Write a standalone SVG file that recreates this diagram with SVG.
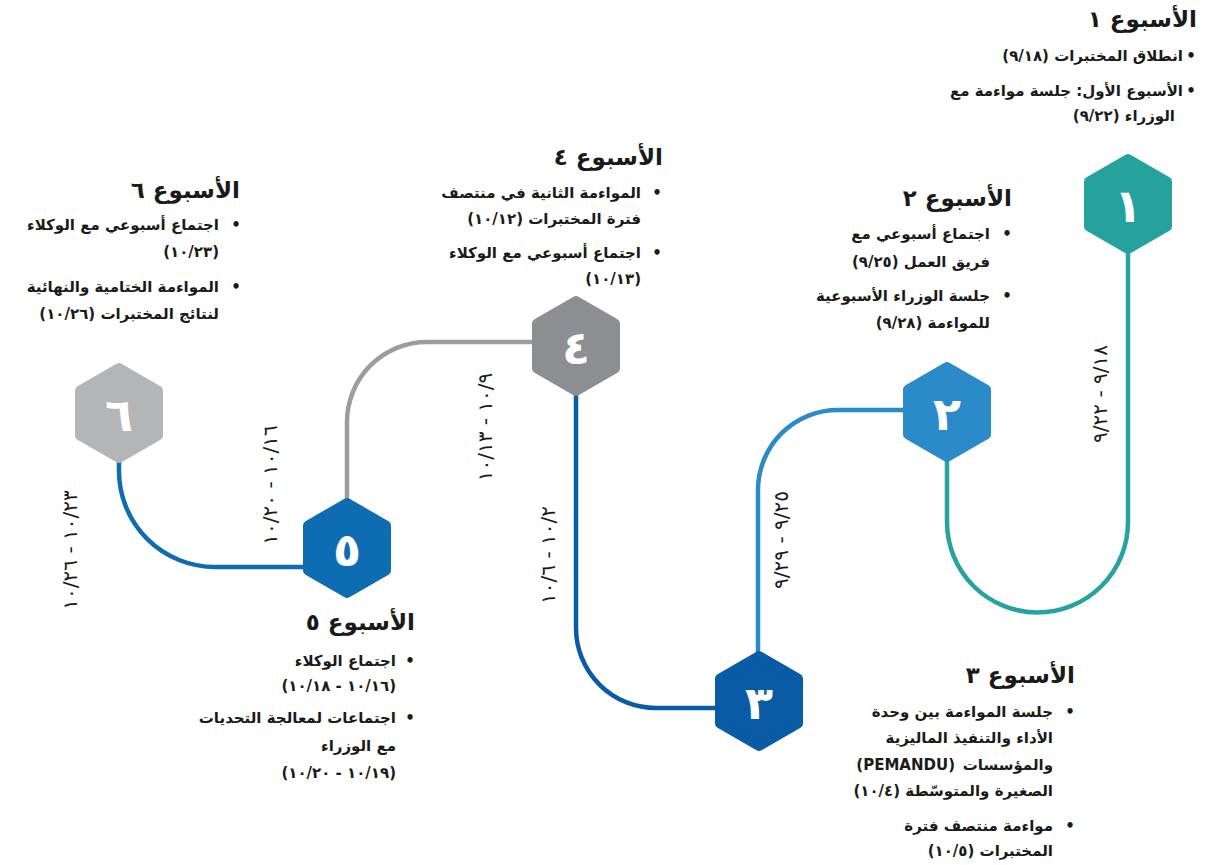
<svg xmlns="http://www.w3.org/2000/svg" width="1225" height="865" viewBox="0 0 1225 865">
  <defs>
    <style>
      .t { font-family: "DejaVu Sans", "Noto Sans", sans-serif; font-weight: bold; fill: #1a1a1a; }
      .rtl { direction: rtl; unicode-bidi: embed; }
      .h { font-size: 23px; }
      .b { font-size: 15px; }
      .dot { font-size: 15px; text-anchor: middle; }
      .date { font-family: "DejaVu Sans", sans-serif; font-size: 20px; letter-spacing: 0.7px; fill: #1a1a1a; text-anchor: middle; dominant-baseline: central; }
      .num { font-family: "DejaVu Sans", sans-serif; font-weight: bold; font-size: 46px; fill: #ffffff; text-anchor: middle; }
      .hex { stroke-width: 10; stroke-linejoin: round; }
      .link { fill: none; stroke-width: 4.5; }
    </style>
    <!-- pointy-top hexagon; the round-joined stroke gives the soft corners -->
    <polygon id="hexShape" points="0,-45 39,-22.5 39,22.5 0,45 -39,22.5 -39,-22.5"/>
  </defs>

  <rect width="1225" height="865" fill="#ffffff"/>

  <!-- connectors between the weekly milestones -->
  <g id="connectors">
    <path class="link" stroke="#27A39F" d="M1128 250 V522 A90.5 90.5 0 0 1 947 522 V458"/>
    <path class="link" stroke="#2B8BC9" d="M905 410 H838 A80 80 0 0 0 758 490 V655"/>
    <path class="link" stroke="#0A5BA6" d="M576 392 V628 A80 80 0 0 0 656 708 H716"/>
    <path class="link" stroke="#9B9C9F" d="M535 342 H427 A80 80 0 0 0 347 422 V502"/>
    <path class="link" stroke="#0E6DB2" d="M305 567 H215 A96 96 0 0 1 119 471 V458"/>
  </g>

  <g id="week1">
    <use href="#hexShape" class="hex" fill="#25A29D" stroke="#25A29D" x="1128" y="204"/>
    <text class="num" x="1128" y="222">١</text>
    <text class="t h rtl" x="1197" y="27">الأسبوع ١</text>
    <text class="t dot" x="1191" y="61">•</text>
    <text class="t b rtl" x="1183" y="61">انطلاق المختبرات (٩/١٨)</text>
    <text class="t dot" x="1191" y="96">•</text>
    <text class="t b rtl" x="1183" y="96">الأسبوع الأول: جلسة مواءمة مع</text>
    <text class="t b rtl" x="1175" y="121">الوزراء (٩/٢٢)</text>
    <text class="date rtl" x="1100" y="394" transform="rotate(-90 1100 394)">٩/١٨ - ٩/٢٢</text>
  </g>

  <g id="week2">
    <use href="#hexShape" class="hex" fill="#2B8BC9" stroke="#2B8BC9" x="947" y="412"/>
    <text class="num" x="947" y="430">٢</text>
    <text class="t h rtl" x="1012" y="206">الأسبوع ٢</text>
    <text class="t dot" x="1007" y="239">•</text>
    <text class="t b rtl" x="990" y="239">اجتماع أسبوعي مع</text>
    <text class="t b rtl" x="990" y="267">فريق العمل (٩/٢٥)</text>
    <text class="t dot" x="1007" y="301">•</text>
    <text class="t b rtl" x="990" y="301">جلسة الوزراء الأسبوعية</text>
    <text class="t b rtl" x="990" y="328">للمواءمة (٩/٢٨)</text>
    <text class="date rtl" x="781" y="540" transform="rotate(-90 781 540)">٩/٢٥ - ٩/٢٩</text>
  </g>

  <g id="week3">
    <use href="#hexShape" class="hex" fill="#0A5BA6" stroke="#0A5BA6" x="759" y="701"/>
    <text class="num" x="759" y="719">٣</text>
    <text class="t h rtl" x="1075" y="683">الأسبوع ٣</text>
    <text class="t dot" x="1070" y="717">•</text>
    <text class="t b rtl" x="1053" y="717">جلسة المواءمة بين وحدة</text>
    <text class="t b rtl" x="1053" y="743">الأداء والتنفيذ الماليزية</text>
    <text class="t b rtl" x="1053" y="770">والمؤسسات</text>
    <text class="t b" x="955" y="770" text-anchor="end">(PEMANDU)</text>
    <text class="t b rtl" x="1053" y="796">الصغيرة والمتوسّطة (١٠/٤)</text>
    <text class="t dot" x="1070" y="831">•</text>
    <text class="t b rtl" x="1053" y="831">مواءمة منتصف فترة</text>
    <text class="t b rtl" x="1053" y="856">المختبرات (١٠/٥)</text>
    <text class="date rtl" x="548" y="555" transform="rotate(-90 548 555)">١٠/٢ - ١٠/٦</text>
  </g>

  <g id="week4">
    <use href="#hexShape" class="hex" fill="#8D8E91" stroke="#8D8E91" x="576" y="346"/>
    <text class="num" x="576" y="364">٤</text>
    <text class="t h rtl" x="663" y="165">الأسبوع ٤</text>
    <text class="t dot" x="657" y="198">•</text>
    <text class="t b rtl" x="641" y="198">المواءمة الثانية في منتصف</text>
    <text class="t b rtl" x="641" y="224">فترة المختبرات (١٠/١٢)</text>
    <text class="t dot" x="657" y="258">•</text>
    <text class="t b rtl" x="641" y="258">اجتماع أسبوعي مع الوكلاء</text>
    <text class="t b rtl" x="641" y="284">(١٠/١٣)</text>
    <text class="date rtl" x="485" y="427" transform="rotate(-90 485 427)">١٠/٩ - ١٠/١٣</text>
  </g>

  <g id="week5">
    <use href="#hexShape" class="hex" fill="#0E6DB2" stroke="#0E6DB2" x="347" y="548"/>
    <text class="num" x="347" y="566">٥</text>
    <text class="t h rtl" x="415" y="630">الأسبوع ٥</text>
    <text class="t dot" x="410" y="666">•</text>
    <text class="t b rtl" x="396" y="666">اجتماع الوكلاء</text>
    <text class="t b rtl" x="396" y="691">(١٠/١٦ - ١٠/١٨)</text>
    <text class="t dot" x="410" y="723">•</text>
    <text class="t b rtl" x="396" y="723">اجتماعات لمعالجة التحديات</text>
    <text class="t b rtl" x="396" y="751">مع الوزراء</text>
    <text class="t b rtl" x="396" y="778">(١٠/١٩ - ١٠/٢٠)</text>
    <text class="date rtl" x="270" y="485" transform="rotate(-90 270 485)">١٠/١٦ - ١٠/٢٠</text>
  </g>

  <g id="week6">
    <use href="#hexShape" class="hex" fill="#B3B5B7" stroke="#B3B5B7" x="119" y="413"/>
    <text class="num" x="119" y="431">٦</text>
    <text class="t h rtl" x="240" y="198">الأسبوع ٦</text>
    <text class="t dot" x="236" y="230">•</text>
    <text class="t b rtl" x="219" y="230">اجتماع أسبوعي مع الوكلاء</text>
    <text class="t b rtl" x="219" y="257">(١٠/٢٣)</text>
    <text class="t dot" x="236" y="292">•</text>
    <text class="t b rtl" x="219" y="292">المواءمة الختامية والنهائية</text>
    <text class="t b rtl" x="219" y="319">لنتائج المختبرات (١٠/٢٦)</text>
    <text class="date rtl" x="70" y="550" transform="rotate(-90 70 550)">١٠/٢٣ - ١٠/٢٦</text>
  </g>
</svg>
